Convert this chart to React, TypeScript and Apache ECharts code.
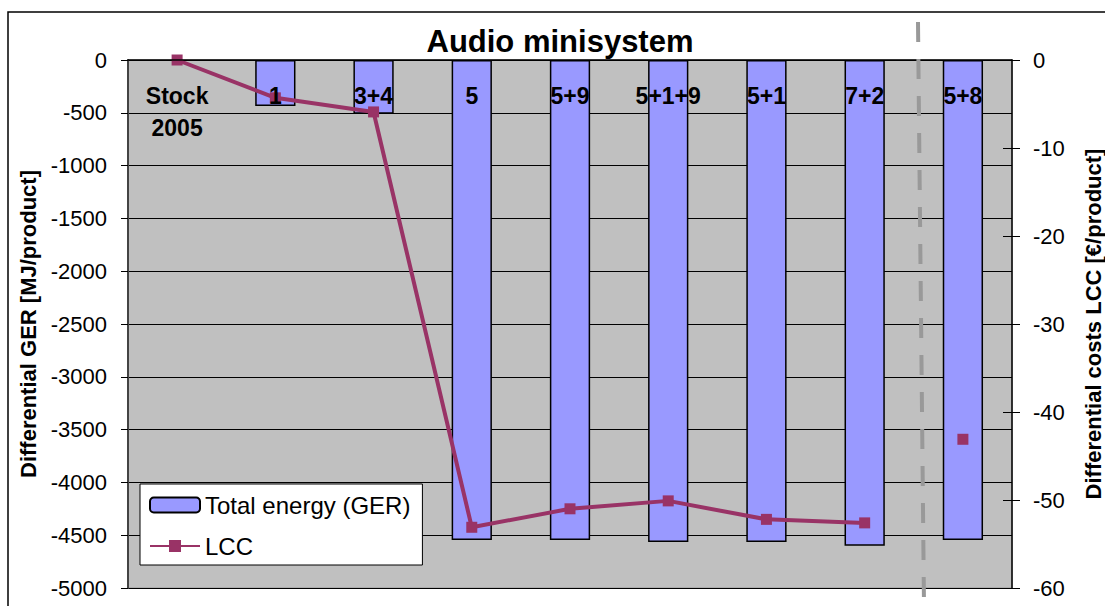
import React, { useEffect, useRef } from "react";
import * as echarts from "echarts";

const categories = ["Stock\n2005", "1", "3+4", "5", "5+9", "5+1+9", "5+1", "7+2", "5+8"];
const gerValues: (number | null)[] = [null, -435, -510, -4545, -4545, -4565, -4565, -4600, -4545];
const lccLine: (number | null)[] = [0, -4.3, -5.9, -53.1, -51.0, -50.1, -52.2, -52.6, null];
const lccSeparate: (number | null)[] = [null, null, null, null, null, null, null, null, -43.1];
const leftTicks = { min: -5000, max: 0, interval: 500 };
const rightTicks = { min: -60, max: 0, interval: 10 };

const FONT = "Liberation Sans, Arial, sans-serif";

export default function App() {
  const ref = useRef<HTMLDivElement>(null);
  useEffect(() => {
    if (!ref.current) return;
    const chart = echarts.init(ref.current, undefined, { renderer: "svg" });
    chart.setOption({
      animation: false,
      textStyle: { fontFamily: FONT, color: "#000" },
      title: {
        text: "Audio minisystem",
        left: 560,
        top: 26,
        padding: 0,
        textAlign: "center",
        textStyle: { fontSize: 31, fontWeight: "bold", color: "#000", fontFamily: FONT },
      },
      legend: {
        orient: "vertical",
        left: 140,
        top: 484,
        padding: [9, 12, 7, 9],
        itemGap: 17,
        itemWidth: 50,
        itemHeight: 15,
        backgroundColor: "#fff",
        borderColor: "#000",
        borderWidth: 1,
        textStyle: { fontSize: 24, color: "#000", fontFamily: FONT },
        data: ["Total energy (GER)", "LCC"],
      },
      grid: {
        left: 128,
        right: 93,
        top: 60,
        bottom: 18,
        show: true,
        backgroundColor: "#C0C0C0",
        borderColor: "#999",
        borderWidth: 1,
        containLabel: false,
        outerBoundsMode: "none",
      },
      xAxis: {
        type: "category",
        data: categories,
        position: "top",
        z: 10,
        axisLine: { lineStyle: { color: "#000", width: 1.5 } },
        axisTick: { inside: true, length: 7, lineStyle: { color: "#000" } },
        axisLabel: {
          inside: true,
          margin: 20,
          fontSize: 23,
          fontWeight: "bold",
          color: "#000",
          lineHeight: 32,
          fontFamily: FONT,
          interval: 0,
        },
        splitLine: { show: false },
      },
      yAxis: [
        {
          type: "value",
          ...leftTicks,
          position: "left",
          name: "Differential GER [MJ/product]",
          nameLocation: "middle",
          nameRotate: 90,
          nameGap: 88,
          nameTextStyle: { fontSize: 22, fontWeight: "bold", color: "#000", fontFamily: FONT },
          axisLine: { show: true, lineStyle: { color: "#444", width: 2 } },
          axisTick: { show: true, length: 7, lineStyle: { color: "#000" } },
          axisLabel: { margin: 21, fontSize: 22, color: "#000", fontFamily: FONT, formatter: (v: number) => String(v) },
          splitLine: { show: true, lineStyle: { color: "#000", width: 1 } },
        },
        {
          type: "value",
          ...rightTicks,
          position: "right",
          name: "Differential costs LCC [€/product]",
          nameLocation: "middle",
          nameRotate: 90,
          nameGap: 70,
          nameTextStyle: { fontSize: 22, fontWeight: "bold", color: "#000", fontFamily: FONT },
          axisLine: { show: true, lineStyle: { color: "#000", width: 1.5 } },
          axisTick: { show: true, length: 8, lineStyle: { color: "#000" } },
          axisLabel: { margin: 21, fontSize: 22, color: "#000", fontFamily: FONT, formatter: (v: number) => String(v) },
          splitLine: { show: false },
        },
        {
          type: "value",
          ...rightTicks,
          position: "right",
          axisLine: { show: false },
          axisTick: { show: true, inside: true, length: 9, lineStyle: { color: "#000" } },
          axisLabel: { show: false },
          splitLine: { show: false },
        },
      ],
      series: [
        {
          name: "Total energy (GER)",
          type: "bar",
          yAxisIndex: 0,
          data: gerValues,
          barWidth: "41%",
          itemStyle: { color: "#9999FF", borderColor: "#000", borderWidth: 1.5 },
        },
        {
          name: "LCC",
          type: "line",
          yAxisIndex: 1,
          data: lccLine,
          symbol: "rect",
          symbolSize: 11,
          z: 5,
          lineStyle: { color: "#993366", width: 4 },
          itemStyle: { color: "#993366" },
        },
        {
          name: "LCC",
          type: "line",
          yAxisIndex: 1,
          data: lccSeparate,
          symbol: "rect",
          symbolSize: 11,
          showSymbol: true,
          z: 5,
          lineStyle: { color: "#993366", width: 4 },
          itemStyle: { color: "#993366" },
        },
      ],
      graphic: [
        {
          type: "rect",
          shape: { x: 8, y: 12, width: 1300, height: 800 },
          style: { fill: "none", stroke: "#000", lineWidth: 1.5 },
          silent: true,
          z: 100,
        },
        {
          type: "line",
          shape: { x1: 918, y1: 22, x2: 924, y2: 606 },
          style: { stroke: "#999999", lineWidth: 4, lineDash: [20, 17] },
          silent: true,
          z: 100,
        },
      ],
    });
    return () => chart.dispose();
  }, []);
  return (
    <div
      ref={ref}
      style={{ position: "absolute", left: 0, top: 0, width: 1105, height: 606, background: "#fff" }}
    />
  );
}
